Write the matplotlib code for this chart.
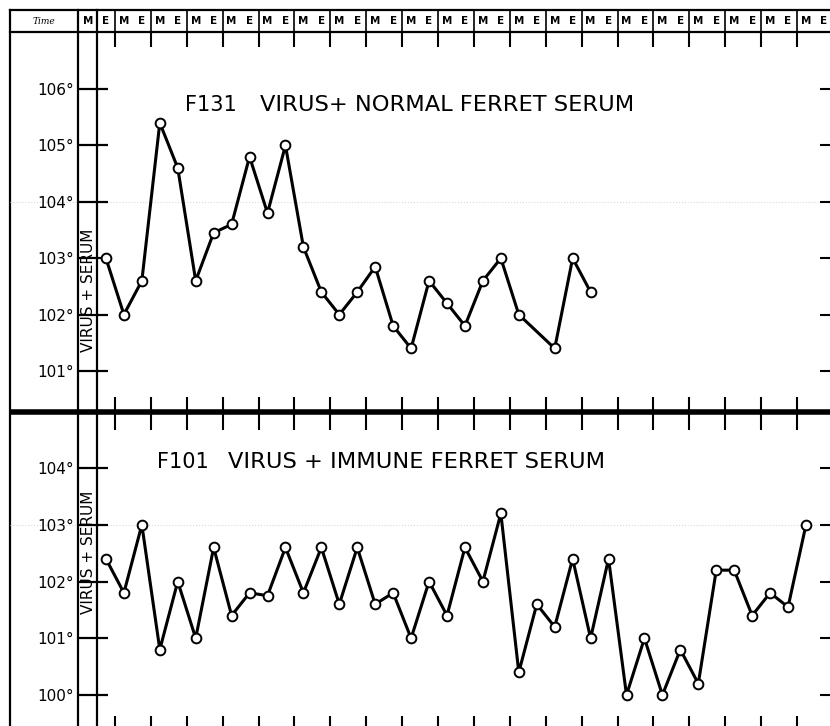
import numpy as np
import matplotlib
matplotlib.use("Agg")
import matplotlib.pyplot as plt
from matplotlib import transforms

# half-day slots: 0 = M of first day, 1 = E, 2 = M of next day ...
top_slots = list(range(1, 25)) + [26, 27, 28]
top_temps = [103.0, 102.0, 102.6, 105.4, 104.6, 102.6, 103.45, 103.6, 104.8,
             103.8, 105.0, 103.2, 102.4, 102.0, 102.4, 102.85, 101.8, 101.4,
             102.6, 102.2, 101.8, 102.6, 103.0, 102.0, 101.4, 103.0, 102.4]

bot_slots = list(range(1, 41))
bot_temps = [102.4, 101.8, 103.0, 100.8, 102.0, 101.0, 102.6, 101.4, 101.8,
             101.75, 102.6, 101.8, 102.6, 101.6, 102.6, 101.6, 101.8, 101.0,
             102.0, 101.4, 102.6, 102.0, 103.2, 100.4, 101.6, 101.2, 102.4,
             101.0, 102.4, 100.0, 101.0, 100.0, 100.8, 100.2, 102.2, 102.2,
             101.4, 101.8, 101.55, 103.0]

top_yticks = [101, 102, 103, 104, 105, 106]
bot_yticks = [100, 101, 102, 103, 104]
top_title = ["F131", "VIRUS+ NORMAL FERRET SERUM"]
bot_title = ["F101", "VIRUS + IMMUNE FERRET SERUM"]
side_label = "VIRUS + SERUM"
n_slots = 42

# layout in pixels
W, H = 830, 726
X0, DX = 88, 17.95          # centre of slot 0, width of a half day
COL1, COL2 = 78, 97          # the two column lines
HEAD_TOP, HEAD_BOT, MID = 10, 32, 412


def box(l, t, r, b):
    return [l / W, 1 - b / H, (r - l) / W, (b - t) / H]


def slot_of(px):
    return (px - X0) / DX


fig = plt.figure(figsize=(W / 100, H / 100), dpi=100)
frame = fig.add_axes([0, 0, 1, 1])
frame.set_xlim(0, W)
frame.set_ylim(H, 0)
frame.axis("off")

# chart grid
frame.plot([10, W], [HEAD_TOP, HEAD_TOP], color="k", lw=1.6)
frame.plot([10, W], [HEAD_BOT, HEAD_BOT], color="k", lw=1.6)
frame.plot([10, W], [MID, MID], color="k", lw=4.0, solid_capstyle="butt")
for xx in (10, COL1, COL2):
    frame.plot([xx, xx], [HEAD_TOP, H], color="k", lw=1.6)
frame.text(44, 21, "Time", fontsize=6.5, style="italic", family="DejaVu Serif",
           ha="center", va="center")


def panel(t, b, y_hi_px, y_hi, y_lo_px, y_lo, yticks):
    ax = fig.add_axes(box(10, t, W, b))
    ax.patch.set_alpha(0)
    ppd = (y_lo_px - y_hi_px) / (y_hi - y_lo)
    ax.set_xlim(slot_of(10), slot_of(W))
    ax.set_ylim(y_lo - (b - y_lo_px) / ppd, y_hi + (y_hi_px - t) / ppd)
    for s in ax.spines.values():
        s.set_visible(False)
    ax.spines["left"].set_position(("data", slot_of(COL1)))
    ax.set_yticks(yticks, labels=["%d°" % v for v in yticks])
    ax.tick_params(axis="y", direction="in", length=21.6, width=1.6, pad=3,
                   labelsize=11)
    right = ax.secondary_yaxis("right")
    right.set_yticks(yticks)
    right.tick_params(direction="in", length=7, width=1.5, labelright=False)
    right.spines["right"].set_visible(False)
    ax.set_xticks(np.arange(1.5, n_slots - 2, 2))
    return ax


ax1 = panel(HEAD_BOT, MID, 89, 106, 371, 101, top_yticks)
ax1.tick_params(axis="x", top=True, bottom=True, direction="in", length=11,
                width=1.5, labelbottom=False)
ax1.axhline(104, color="#d8d8d8", lw=0.8, ls=":", zorder=0)

ax2 = panel(MID, H, 468, 104, 695, 100, bot_yticks)
ax2.tick_params(axis="x", top=True, bottom=False, direction="in", length=13,
                width=1.5, labelbottom=False)
low = ax2.secondary_xaxis("bottom")
low.set_xticks(np.arange(1.5, n_slots - 2, 2))
low.tick_params(direction="in", length=7, width=1.5, labelbottom=False)
low.spines["bottom"].set_visible(False)
ax2.axhline(103, color="#d8d8d8", lw=0.8, ls=":", zorder=0)

# header: M / E per half day, separators between days
head = transforms.blended_transform_factory(ax1.transData, frame.transData)
for j in range(n_slots):
    frame.text(j, (HEAD_TOP + HEAD_BOT) / 2, "M" if j % 2 == 0 else "E",
               transform=head, fontsize=7.5, fontweight="bold",
               ha="center", va="center")
frame.vlines(np.arange(1.5, n_slots, 2), HEAD_TOP, HEAD_BOT, color="k",
             lw=1.2, transform=head)

# temperature curves
for ax, xs, ys in ((ax1, top_slots, top_temps), (ax2, bot_slots, bot_temps)):
    ax.plot(xs, ys, color="k", lw=2.2, marker="o", ms=7, mfc="white",
            mec="k", mew=1.4, zorder=3)

# titles
frame.text(185, 105, top_title[0], fontsize=15, ha="left", va="center")
frame.text(260, 105, top_title[1], fontsize=16.2, ha="left", va="center")
frame.text(157, 462, bot_title[0], fontsize=15, ha="left", va="center")
frame.text(228, 462, bot_title[1], fontsize=16.2, ha="left", va="center")
frame.text(88, 290, side_label, fontsize=11, rotation=90, ha="center", va="center")
frame.text(88, 552, side_label, fontsize=11, rotation=90, ha="center", va="center")

fig.savefig("out.png", dpi=100)
